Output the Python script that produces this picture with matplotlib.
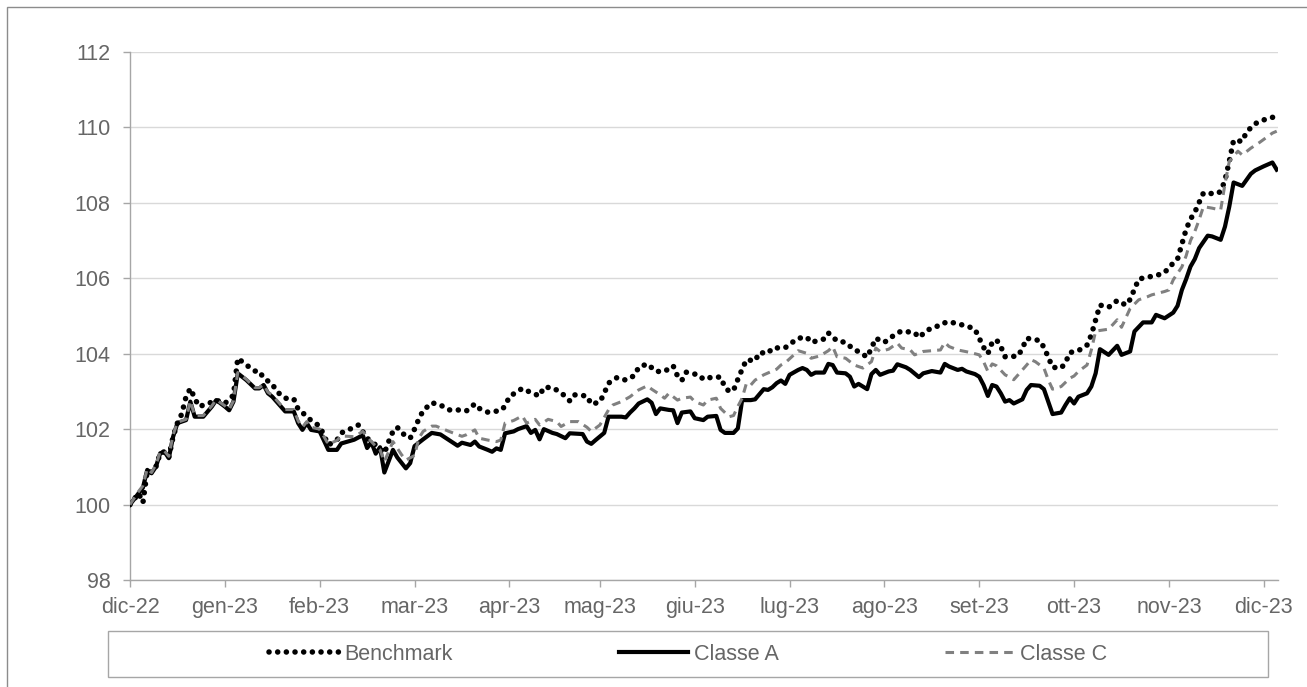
import matplotlib
matplotlib.use("Agg")
import matplotlib.pyplot as plt
from matplotlib.patches import Rectangle

plt.rcParams['font.family'] = ['Liberation Sans', 'DejaVu Sans']

# x = trading-day index; month labels sit on the first session of each month
month_labels = ['dic-22', 'gen-23', 'feb-23', 'mar-23', 'apr-23', 'mag-23', 'giu-23',
                'lug-23', 'ago-23', 'set-23', 'ott-23', 'nov-23', 'dic-23']
month_start_day = [0, 22, 44, 66, 88, 109, 131, 153, 175, 197, 219, 241, 263]
y_ticks = [98, 100, 102, 104, 106, 108, 110, 112]

# (trading day, value)
benchmark = [
    (0, 100.0), (2, 100.3), (3, 100.05), (4, 100.9), (5, 100.85), (6, 101.0), (7, 101.36),
    (8, 101.4), (9, 101.25), (10, 101.8), (11, 102.16), (12, 102.4), (13, 102.86), (14, 103.08),
    (15, 102.82), (16, 102.6), (18, 102.67), (20, 102.77), (22, 102.68), (24, 102.9),
    (25, 103.88), (27, 103.7), (29, 103.54), (30, 103.54), (31, 103.35), (33, 103.2),
    (34, 103.0), (36, 102.82), (38, 102.8), (39, 102.53), (40, 102.44), (42, 102.23),
    (44, 102.08), (46, 101.58), (48, 101.71), (49, 101.9), (51, 102.0), (53, 102.11),
    (55, 101.76), (57, 101.58), (59, 101.36), (60, 101.67), (61, 101.94), (62, 102.05),
    (63, 101.9), (65, 101.76), (66, 102.0), (67, 102.27), (68, 102.49), (70, 102.7),
    (72, 102.64), (74, 102.51), (76, 102.51), (78, 102.48), (80, 102.67), (81, 102.55),
    (83, 102.45), (86, 102.49), (87, 102.61), (88, 102.86), (90, 103.01), (91, 103.08),
    (93, 102.97), (95, 102.88), (96, 103.11), (98, 103.1), (100, 102.97), (102, 102.75),
    (103, 102.91), (106, 102.88), (107, 102.66), (109, 102.72), (110, 102.95), (111, 103.22),
    (113, 103.37), (115, 103.3), (117, 103.42), (118, 103.64), (120, 103.73), (122, 103.53),
    (124, 103.53), (126, 103.68), (127, 103.41), (128, 103.29), (129, 103.51), (131, 103.46),
    (132, 103.44), (133, 103.32), (135, 103.38), (137, 103.38), (138, 103.11), (139, 103.0),
    (140, 103.03), (141, 103.32), (142, 103.59), (143, 103.84), (145, 103.81), (146, 104.03),
    (148, 104.01), (149, 104.15), (152, 104.16), (153, 104.25), (155, 104.41), (157, 104.44),
    (158, 104.3), (161, 104.39), (162, 104.55), (164, 104.34), (166, 104.3), (168, 104.1),
    (169, 104.06), (171, 103.91), (172, 104.15), (173, 104.41), (175, 104.3), (176, 104.39),
    (178, 104.55), (179, 104.6), (182, 104.56), (183, 104.43), (185, 104.63), (187, 104.71),
    (188, 104.79), (190, 104.85), (192, 104.79), (194, 104.74), (196, 104.65), (197, 104.41),
    (198, 104.17), (199, 104.0), (200, 104.3), (201, 104.37), (202, 104.19), (203, 103.92),
    (204, 103.92), (206, 103.94), (207, 104.14), (208, 104.41), (211, 104.35), (212, 104.17),
    (213, 103.91), (214, 103.64), (216, 103.62), (217, 103.76), (218, 104.03), (220, 104.08),
    (222, 104.23), (223, 104.5), (224, 104.9), (225, 105.29), (227, 105.23), (229, 105.41),
    (231, 105.29), (232, 105.44), (233, 105.71), (234, 105.98), (236, 106.03), (238, 106.07),
    (240, 106.15), (241, 106.29), (243, 106.51), (244, 106.9), (245, 107.3), (246, 107.57),
    (247, 107.75), (248, 108.01), (249, 108.26), (252, 108.24), (253, 108.3), (254, 108.6),
    (255, 109.1), (256, 109.66), (258, 109.63), (259, 109.88), (261, 110.1), (263, 110.2),
    (266, 110.3),
]

classe_a = [
    (0, 100.0), (2, 100.3), (3, 100.45), (4, 100.92), (5, 100.83), (6, 101.0), (7, 101.36),
    (8, 101.4), (9, 101.23), (10, 101.8), (11, 102.16), (12, 102.2), (13, 102.24), (14, 102.73),
    (15, 102.33), (17, 102.33), (19, 102.6), (20, 102.77), (22, 102.6), (23, 102.5),
    (24, 102.73), (25, 103.48), (27, 103.3), (29, 103.08), (30, 103.08), (31, 103.17),
    (32, 102.95), (33, 102.86), (35, 102.6), (36, 102.47), (38, 102.47), (39, 102.16),
    (40, 101.98), (41, 102.16), (42, 101.98), (44, 101.94), (46, 101.45), (48, 101.45),
    (49, 101.62), (52, 101.72), (54, 101.84), (55, 101.5), (56, 101.65), (57, 101.35),
    (58, 101.52), (59, 100.85), (61, 101.45), (62, 101.25), (64, 100.96), (65, 101.1),
    (66, 101.55), (68, 101.73), (70, 101.9), (72, 101.86), (74, 101.71), (76, 101.56),
    (77, 101.64), (79, 101.58), (80, 101.67), (81, 101.54), (83, 101.45), (84, 101.4),
    (85, 101.49), (86, 101.45), (87, 101.89), (89, 101.94), (90, 102.0), (92, 102.08),
    (93, 101.9), (94, 101.98), (95, 101.73), (96, 102.0), (98, 101.9), (99, 101.87),
    (101, 101.76), (102, 101.89), (105, 101.87), (106, 101.67), (107, 101.61), (108, 101.71),
    (110, 101.9), (111, 102.33), (114, 102.33), (115, 102.31), (116, 102.44), (117, 102.55),
    (118, 102.68), (120, 102.79), (121, 102.7), (122, 102.4), (123, 102.55), (125, 102.51),
    (126, 102.5), (127, 102.16), (128, 102.44), (130, 102.47), (131, 102.29), (133, 102.24),
    (134, 102.33), (136, 102.35), (137, 101.98), (138, 101.9), (140, 101.9), (141, 102.02),
    (142, 102.77), (144, 102.77), (145, 102.79), (147, 103.06), (148, 103.04), (149, 103.11),
    (150, 103.22), (151, 103.29), (152, 103.2), (153, 103.44), (155, 103.57), (156, 103.62),
    (157, 103.57), (158, 103.44), (159, 103.5), (161, 103.5), (162, 103.73), (163, 103.7),
    (164, 103.5), (166, 103.48), (167, 103.39), (168, 103.13), (169, 103.2), (171, 103.06),
    (172, 103.46), (173, 103.57), (174, 103.44), (176, 103.53), (177, 103.55), (178, 103.72),
    (180, 103.64), (181, 103.57), (183, 103.38), (184, 103.48), (186, 103.54), (188, 103.5),
    (189, 103.73), (190, 103.66), (192, 103.57), (193, 103.6), (194, 103.53), (196, 103.46),
    (197, 103.39), (198, 103.17), (199, 102.88), (200, 103.17), (201, 103.13), (202, 102.95),
    (203, 102.73), (204, 102.77), (205, 102.68), (207, 102.79), (208, 103.04), (209, 103.17),
    (211, 103.15), (212, 103.06), (213, 102.73), (214, 102.4), (216, 102.44), (217, 102.64),
    (218, 102.82), (219, 102.68), (220, 102.86), (222, 102.95), (223, 103.13), (224, 103.48),
    (225, 104.12), (227, 103.97), (229, 104.21), (230, 103.97), (232, 104.06), (233, 104.59),
    (235, 104.83), (237, 104.83), (238, 105.03), (240, 104.94), (242, 105.09), (243, 105.27),
    (244, 105.69), (245, 105.98), (246, 106.31), (247, 106.51), (248, 106.8), (250, 107.13),
    (251, 107.11), (253, 107.02), (254, 107.37), (255, 107.9), (256, 108.54), (258, 108.45),
    (260, 108.77), (261, 108.86), (263, 108.97), (265, 109.07), (266, 108.88),
]

classe_c = [
    (0, 100.0), (2, 100.35), (3, 100.5), (4, 100.95), (5, 100.85), (6, 101.05), (7, 101.4),
    (8, 101.42), (9, 101.28), (10, 101.85), (11, 102.18), (12, 102.22), (13, 102.26),
    (14, 102.75), (15, 102.36), (17, 102.36), (19, 102.62), (20, 102.78), (22, 102.62),
    (23, 102.52), (24, 102.75), (25, 103.5), (27, 103.32), (29, 103.1), (30, 103.1),
    (31, 103.18), (32, 102.98), (33, 102.9), (35, 102.64), (36, 102.52), (38, 102.52),
    (39, 102.22), (40, 102.05), (41, 102.2), (42, 102.05), (44, 102.0), (46, 101.6),
    (48, 101.7), (49, 101.82), (52, 101.8), (54, 101.94), (56, 101.67), (57, 101.55),
    (58, 101.45), (59, 101.14), (61, 101.67), (63, 101.32), (64, 101.18), (66, 101.3),
    (67, 101.76), (68, 101.94), (70, 102.08), (71, 102.08), (74, 101.94), (77, 101.81),
    (78, 101.85), (80, 101.98), (81, 101.76), (83, 101.71), (85, 101.67), (86, 101.71),
    (87, 102.16), (89, 102.23), (91, 102.35), (92, 102.16), (94, 102.26), (95, 102.11),
    (97, 102.26), (99, 102.2), (100, 102.07), (102, 102.2), (104, 102.2), (106, 102.05),
    (107, 101.94), (109, 102.11), (111, 102.51), (112, 102.64), (114, 102.73), (116, 102.86),
    (118, 103.04), (120, 103.15), (121, 103.06), (123, 102.91), (124, 102.82), (125, 102.95),
    (127, 102.77), (128, 102.82), (130, 102.85), (131, 102.73), (133, 102.64), (134, 102.77),
    (136, 102.82), (137, 102.55), (139, 102.33), (140, 102.36), (141, 102.6), (142, 102.82),
    (143, 103.22), (144, 103.17), (145, 103.3), (147, 103.44), (150, 103.59), (151, 103.7),
    (152, 103.76), (154, 103.97), (155, 104.08), (157, 104.01), (158, 103.88), (160, 103.94),
    (162, 104.08), (163, 104.19), (164, 103.92), (166, 103.88), (168, 103.7), (170, 103.62),
    (172, 103.79), (173, 104.15), (174, 104.06), (176, 104.12), (178, 104.28), (179, 104.15),
    (181, 104.1), (182, 103.97), (184, 104.06), (186, 104.08), (188, 104.1), (189, 104.3),
    (190, 104.19), (192, 104.1), (195, 104.03), (197, 103.97), (198, 103.79), (199, 103.53),
    (200, 103.73), (201, 103.68), (203, 103.44), (204, 103.38), (205, 103.31), (206, 103.44),
    (208, 103.7), (209, 103.84), (210, 103.79), (212, 103.62), (213, 103.31), (214, 103.06),
    (216, 103.13), (218, 103.35), (219, 103.41), (220, 103.53), (222, 103.7), (223, 104.1),
    (224, 104.6), (227, 104.65), (229, 104.9), (230, 104.7), (232, 105.2), (234, 105.43),
    (236, 105.51), (237, 105.56), (240, 105.65), (241, 105.69), (242, 105.96), (244, 106.3),
    (245, 106.6), (246, 107.0), (247, 107.24), (248, 107.55), (249, 107.9), (251, 107.86),
    (253, 107.81), (254, 108.5), (255, 109.1), (257, 109.37), (258, 109.27), (260, 109.45),
    (262, 109.6), (265, 109.85), (266, 109.9),
]

W, H = 1307, 687
fig = plt.figure(figsize=(W / 100, H / 100), dpi=100)
ax = fig.add_axes([130 / W, 1 - 580 / H, (1278 - 130) / W, (580 - 52) / H])

text_gray = '#666666'
axis_gray = '#a6a6a6'

bx, by = zip(*benchmark)
axx, ayy = zip(*classe_a)
cx, cy = zip(*classe_c)

ax.plot(bx, by, color='black', lw=4.0, linestyle=(0, (0.01, 1.55)),
        dash_capstyle='round', label='Benchmark', zorder=3)
ax.plot(axx, ayy, color='black', lw=3.0, label='Classe A', zorder=4)
ax.plot(cx, cy, color='#808080', lw=2.2, linestyle=(0, (2.8, 2.0)),
        label='Classe C', zorder=5)

ax.set_xlim(0, 266.3)
ax.set_ylim(98, 112)
ax.set_yticks(y_ticks)
ax.set_yticklabels([str(v) for v in y_ticks])
ax.set_xticks(month_start_day)
ax.set_xticklabels(month_labels)

ax.grid(axis='y', color='#d9d9d9', lw=1.0, zorder=0)
ax.set_axisbelow(True)
for s in ['top', 'right']:
    ax.spines[s].set_visible(False)
for s in ['left', 'bottom']:
    ax.spines[s].set_color(axis_gray)
    ax.spines[s].set_linewidth(1.0)
ax.tick_params(axis='both', colors=axis_gray, labelcolor=text_gray, labelsize=15.5,
               length=5, width=1.0, direction='out')
ax.tick_params(axis='y', pad=9)
ax.tick_params(axis='x', pad=7)

# legend frame and legend
fig.patches.append(Rectangle((108 / W, 1 - 677 / H), (1268 - 108) / W, (677 - 631) / H,
                             transform=fig.transFigure, fill=False, edgecolor=axis_gray, lw=1.0))
leg = fig.legend(loc='center', bbox_to_anchor=(688 / W, 1 - 654 / H), ncol=3, frameon=False,
                 fontsize=15.5, handlelength=3.25, columnspacing=7.7, handletextpad=0.25,
                 labelcolor=text_gray)

# outer chart border (top and left edges visible)
fig.patches.append(Rectangle((7 / W, -0.05), 1.2, 1 - 7 / H + 0.05,
                             transform=fig.transFigure, fill=False, edgecolor='#8c8c8c', lw=1.0))

fig.savefig('out.png', dpi=100, facecolor='white')
